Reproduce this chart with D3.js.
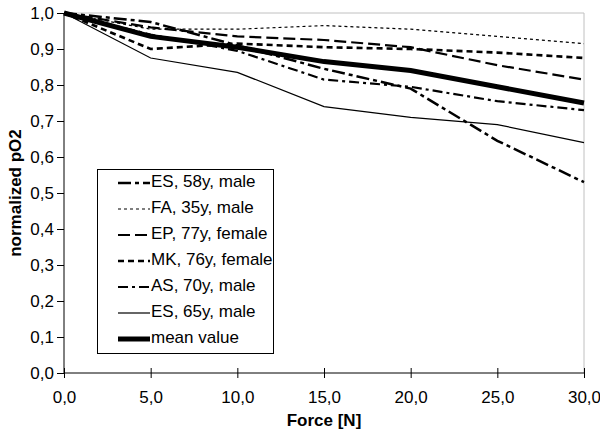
<!DOCTYPE html>
<html><head><meta charset="utf-8">
<script src="https://cdn.jsdelivr.net/npm/d3@7"></script>
<style>body{margin:0;background:#fff}svg text{font-family:"Liberation Sans",Arial,sans-serif}</style>
</head><body><svg id="c" width="600" height="438"></svg>
<script>
const forces = [0, 5, 10, 15, 20, 25, 30];
const xTicks = [0, 5, 10, 15, 20, 25, 30];
const yTicks = [0, 0.1, 0.2, 0.3, 0.4, 0.5, 0.6, 0.7, 0.8, 0.9, 1.0];
const seriesNames = ["ES, 58y, male", "FA, 35y, male", "EP, 77y, female", "MK, 76y, female", "AS, 70y, male", "ES, 65y, male", "mean value"];
const ES58 = [1.0, 0.975, 0.91, 0.845, 0.79, 0.645, 0.53];
const FA35 = [1.0, 0.955, 0.955, 0.965, 0.955, 0.935, 0.915];
const EP77 = [1.0, 0.96, 0.935, 0.925, 0.905, 0.855, 0.815];
const MK76 = [1.0, 0.90, 0.915, 0.905, 0.90, 0.89, 0.875];
const AS70 = [1.0, 0.94, 0.895, 0.815, 0.795, 0.755, 0.73];
const ES65 = [1.0, 0.875, 0.835, 0.74, 0.71, 0.69, 0.64];
const MEAN = [1.0, 0.935, 0.905, 0.865, 0.84, 0.795, 0.75];

const seriesVals = [ES58, FA35, EP77, MK76, AS70, ES65, MEAN];
const styles = [
  {w: 2.5, dash: "13,4,4,4"},
  {w: 1.2, dash: "3,3"},
  {w: 2.2, dash: "12,5"},
  {w: 2.6, dash: "6,4"},
  {w: 2.2, dash: "10,4,3,4"},
  {w: 1.2, dash: null},
  {w: 5, dash: null}
];

const svg = d3.select("#c");
const L = 64, R = 584, T = 13, B = 373;
const x = d3.scaleLinear().domain([0, 30]).range([L, R]);
const y = d3.scaleLinear().domain([0, 1]).range([B, T]);

svg.append("path").attr("d", `M${L},${T}H${R}V${B}`).attr("fill", "none").attr("stroke", "#c0c0c0").attr("stroke-width", 1);

const fmt = d => d3.format(".1f")(d).replace(".", ",");

const gx = svg.append("g").attr("transform", `translate(0,${B})`)
  .call(d3.axisBottom(x).tickValues(xTicks).tickSize(5).tickFormat(fmt));
gx.selectAll(".tick line").attr("y1", -5).attr("y2", 5);
gx.select(".domain").attr("d", `M${L},0H${R}`);
gx.selectAll("text").attr("font-size", 17).attr("dy", "1.3em");

const gy = svg.append("g").attr("transform", `translate(${L},0)`)
  .call(d3.axisLeft(y).tickValues(yTicks).tickSize(7).tickFormat(fmt));
gy.select(".domain").attr("d", `M0,${T}V${B}`);
gy.selectAll("text").attr("font-size", 17).attr("x", -10);
svg.selectAll(".domain, .tick line").attr("stroke", "#000");

svg.append("text").attr("x", (L + R) / 2).attr("y", 422).attr("text-anchor", "middle")
  .attr("font-size", 17).attr("font-weight", "bold").attr("dominant-baseline", "middle").text("Force [N]");
svg.append("text").attr("transform", `translate(17,${(T + B) / 2}) rotate(-90)`).attr("text-anchor", "middle")
  .attr("font-size", 17).attr("font-weight", "bold").attr("dominant-baseline", "middle").text("normalized pO2");

const line = d3.line().x((d, i) => x(forces[i])).y(d => y(d));
seriesVals.forEach((vals, k) => {
  svg.append("path").attr("d", line(vals)).attr("fill", "none").attr("stroke", "#000")
    .attr("stroke-width", styles[k].w).attr("stroke-dasharray", styles[k].dash);
});

const lg = svg.append("g");
lg.append("rect").attr("x", 97.5).attr("y", 169.5).attr("width", 176).attr("height", 184)
  .attr("fill", "#fff").attr("stroke", "#000").attr("stroke-width", 1);
seriesNames.forEach((n, k) => {
  const yy = 183 + k * 26;
  lg.append("line").attr("x1", 118).attr("x2", 150).attr("y1", yy).attr("y2", yy)
    .attr("stroke", "#000").attr("stroke-width", styles[k].w).attr("stroke-dasharray", styles[k].dash);
  lg.append("text").attr("x", 151).attr("y", yy).attr("dominant-baseline", "middle")
    .attr("font-size", 17).text(n);
});
</script></body></html>
